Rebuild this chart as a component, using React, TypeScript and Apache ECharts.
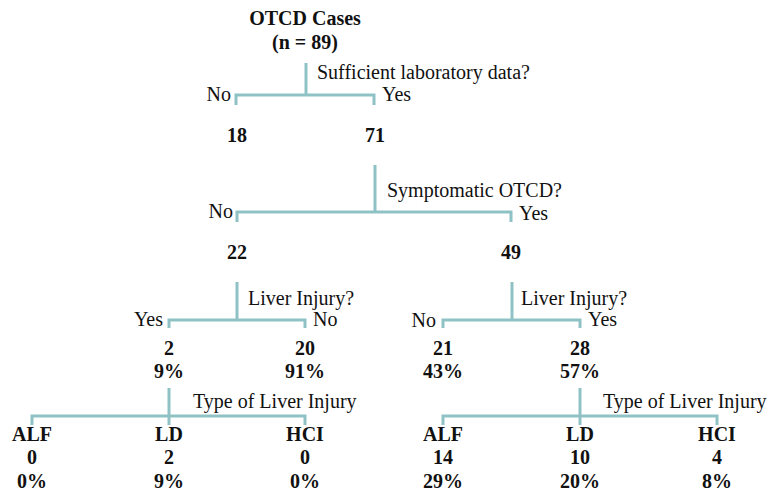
import React, { useEffect, useRef } from "react";
import * as echarts from "echarts";

// ---- Data ----
const rootTitle = "OTCD Cases";
const rootTotal = 89;

const q1 = "Sufficient laboratory data?";
const q1Branches = ["No", "Yes"];
const q1Counts = [18, 71];

const q2 = "Symptomatic OTCD?";
const q2Branches = ["No", "Yes"];
const q2Counts = [22, 49];

const q3 = "Liver Injury?";
const q3LeftBranches = ["Yes", "No"];
const q3LeftCounts = [2, 20];
const q3LeftPct = [9, 91];
const q3RightBranches = ["No", "Yes"];
const q3RightCounts = [21, 28];
const q3RightPct = [43, 57];

const q4 = "Type of Liver Injury";
const injuryTypes = ["ALF", "LD", "HCI"];
const leftTypeCounts = [0, 2, 0];
const leftTypePct = [0, 9, 0];
const rightTypeCounts = [14, 10, 4];
const rightTypePct = [29, 20, 8];

// ---- Styling / layout ----
const FONT = '"Liberation Serif", "Times New Roman", serif';
const LINE_COLOR = "#8fc2c4";
const TEXT_COLOR = "#111111";
const FS = 20;

function txt(text: string, x: number, y: number, align: string, bold = false) {
  return {
    type: "text",
    x,
    y,
    silent: true,
    style: {
      text,
      fontFamily: FONT,
      fontSize: FS,
      fontWeight: bold ? "bold" : "normal",
      fill: TEXT_COLOR,
      align,
      verticalAlign: "middle",
    },
  };
}

function connector(stemX: number, stemTop: number, barY: number, xs: number[], dropBottom: number) {
  const els: any[] = [];
  const lineStyle = { stroke: LINE_COLOR, lineWidth: 3, fill: "none" };
  const first = xs[0];
  const last = xs[xs.length - 1];
  els.push({
    type: "polyline",
    silent: true,
    shape: { points: [[first, dropBottom], [first, barY], [last, barY], [last, dropBottom]] },
    style: lineStyle,
  });
  const stemBottom = xs.length > 2 ? dropBottom : barY;
  els.push({
    type: "line",
    silent: true,
    shape: { x1: stemX, y1: stemTop, x2: stemX, y2: stemBottom },
    style: lineStyle,
  });
  return els;
}

function buildGraphics() {
  const g: any[] = [];
  // Root
  g.push(txt(rootTitle, 305, 18, "center", true));
  g.push(txt(`(n = ${rootTotal})`, 305, 42, "center", true));

  // Split 1
  const s1 = [236, 374];
  g.push(...connector(306, 63, 95, s1, 105));
  g.push(txt(q1, 317, 72, "left"));
  g.push(txt(q1Branches[0], 231, 94, "right"));
  g.push(txt(q1Branches[1], 382, 94, "left"));
  q1Counts.forEach((c, i) => g.push(txt(String(c), s1[i] + 1, 135, "center", true)));

  // Split 2
  const s2 = [237, 511];
  g.push(...connector(375, 165, 212, s2, 222));
  g.push(txt(q2, 387, 190, "left"));
  g.push(txt(q2Branches[0], 233, 211, "right"));
  g.push(txt(q2Branches[1], 519, 213, "left"));
  q2Counts.forEach((c, i) => g.push(txt(String(c), s2[i], 252, "center", true)));

  // Split 3 left
  const s3l = [169, 305];
  g.push(...connector(237, 282, 320, s3l, 328));
  g.push(txt(q3, 248, 298, "left"));
  g.push(txt(q3LeftBranches[0], 163, 319, "right"));
  g.push(txt(q3LeftBranches[1], 313, 319, "left"));
  q3LeftCounts.forEach((c, i) => {
    g.push(txt(String(c), s3l[i], 348, "center", true));
    g.push(txt(`${q3LeftPct[i]}%`, s3l[i], 371, "center", true));
  });

  // Split 3 right
  const s3r = [443, 580];
  g.push(...connector(512, 282, 320, s3r, 328));
  g.push(txt(q3, 521, 298, "left"));
  g.push(txt(q3RightBranches[0], 436, 320, "right"));
  g.push(txt(q3RightBranches[1], 588, 319, "left"));
  q3RightCounts.forEach((c, i) => {
    g.push(txt(String(c), s3r[i], 348, "center", true));
    g.push(txt(`${q3RightPct[i]}%`, s3r[i], 371, "center", true));
  });

  // Split 4 left
  const s4l = [32, 169, 305];
  g.push(...connector(169, 388, 416, s4l, 425));
  g.push(txt(q4, 193, 401, "left"));
  injuryTypes.forEach((t, i) => {
    g.push(txt(t, s4l[i], 434, "center", true));
    g.push(txt(String(leftTypeCounts[i]), s4l[i], 457, "center", true));
    g.push(txt(`${leftTypePct[i]}%`, s4l[i], 481, "center", true));
  });

  // Split 4 right
  const s4r = [443, 580, 717];
  g.push(...connector(580, 388, 416, s4r, 425));
  g.push(txt(q4, 603, 401, "left"));
  injuryTypes.forEach((t, i) => {
    g.push(txt(t, s4r[i], 434, "center", true));
    g.push(txt(String(rightTypeCounts[i]), s4r[i], 457, "center", true));
    g.push(txt(`${rightTypePct[i]}%`, s4r[i], 481, "center", true));
  });

  return g;
}

export default function App() {
  const ref = useRef<HTMLDivElement>(null);
  useEffect(() => {
    document.body.style.margin = "0";
    if (!ref.current) return;
    const chart = echarts.init(ref.current, undefined, { renderer: "svg" });
    chart.setOption({
      animation: false,
      backgroundColor: "#ffffff",
      graphic: { elements: buildGraphics() },
    });
    return () => chart.dispose();
  }, []);
  return <div ref={ref} style={{ width: 775, height: 496 }} />;
}
